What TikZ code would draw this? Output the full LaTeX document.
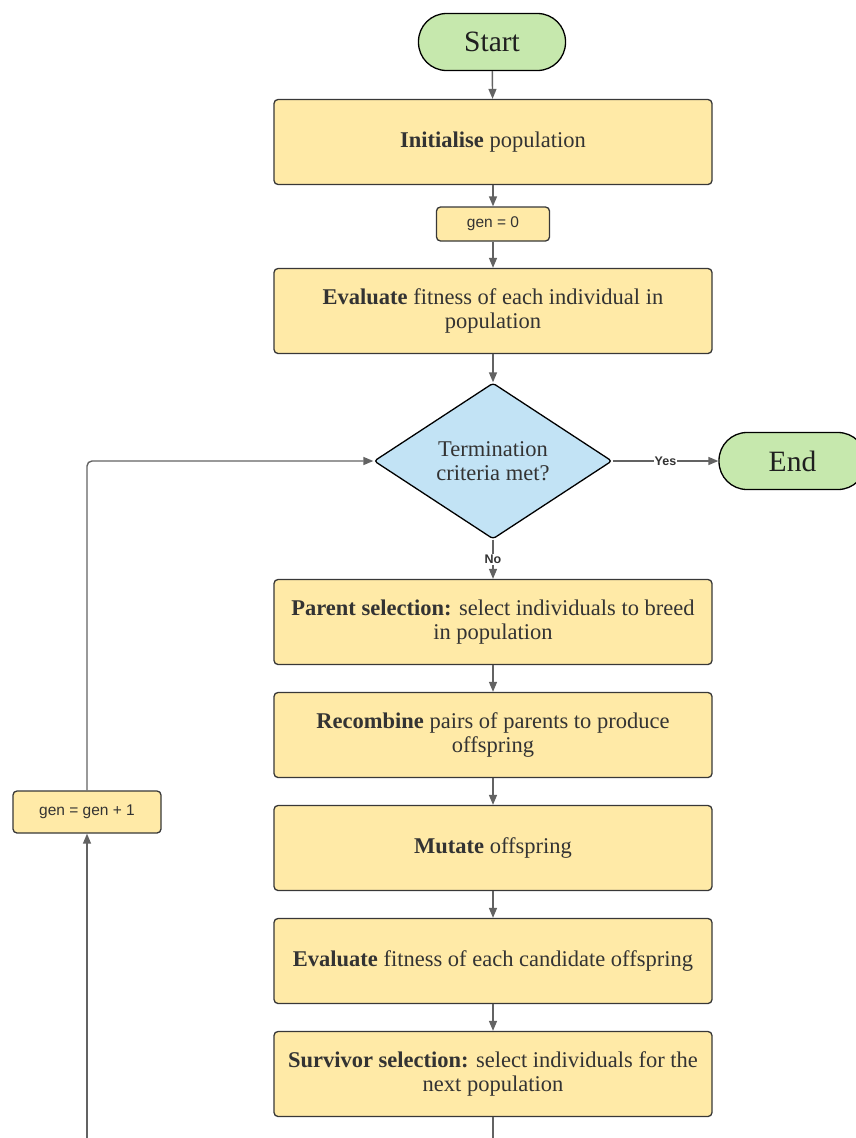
\documentclass[tikz,border=0pt]{standalone}
\usepackage{fontspec}
\setmainfont{Liberation Serif}
\newfontfamily\labelfont{Liberation Sans}
\usetikzlibrary{shapes.geometric,arrows.meta}
\definecolor{boxyellow}{HTML}{FFEAA7}
\definecolor{termgreen}{HTML}{C6E8AD}
\definecolor{decblue}{HTML}{C2E3F5}
\definecolor{edgegray}{HTML}{636363}
\definecolor{textgray}{HTML}{333333}
\begin{document}
\begin{tikzpicture}[x=1pt,y=-1pt,
    process/.style={draw=black!78,line width=1.3pt,fill=boxyellow,rounded corners=4pt,
      minimum width=438pt,minimum height=85pt,inner sep=2pt,align=center,
      text=textgray,font=\fontsize{22.5}{23.5}\selectfont},
    counter/.style={draw=black!78,line width=1.3pt,fill=boxyellow,rounded corners=4pt,
      minimum width=113pt,minimum height=34pt,inner sep=2pt,
      text=textgray,font=\labelfont\fontsize{15.5}{17}\selectfont},
    terminal/.style={draw=black,line width=1.3pt,fill=termgreen,rounded corners=28pt,
      minimum width=147pt,minimum height=57pt,text=black!88,
      font=\fontsize{29.5}{31}\selectfont},
    decision/.style={diamond,draw=black,line width=1.3pt,fill=decblue,rounded corners=3pt,
      minimum width=238pt,minimum height=156pt,inner sep=0pt,align=center,
      text=textgray,font=\fontsize{22.5}{23.5}\selectfont},
    answer/.style={fill=white,inner sep=1pt,text=textgray,
      font=\labelfont\bfseries\fontsize{12.5}{13}\selectfont},
    flow/.style={draw=edgegray,line width=1.4pt,-{Triangle[length=10pt,width=8pt]}}]
\useasboundingbox (0,0) rectangle (855,1138);

% main column
\node[terminal] (start) at (492,42) {Start};
\node[process] (init) at (493,142) {\textbf{Initialise} population};
\node[counter] (gen0) at (493,224) {gen = 0};
\node[process] (eval) at (493,311) {\textbf{Evaluate} fitness of each individual in\\population};
\node[decision] (term) at (493,461) {Termination\\criteria met?};
\node[terminal] (end) at (792.5,461) {End};
\node[process] (parents) at (493,622) {\textbf{Parent selection:} select individuals to breed\\in population};
\node[process] (recomb) at (493,735) {\textbf{Recombine} pairs of parents to produce\\offspring};
\node[process] (mutate) at (493,848) {\textbf{Mutate} offspring};
\node[process] (evaloff) at (493,961) {\textbf{Evaluate} fitness of each candidate offspring};
\node[process] (survivor) at (493,1074) {\textbf{Survivor selection:} select individuals for the\\next population};

% loop back
\node[counter,minimum width=148pt,minimum height=42pt] (incr) at (87,812) {gen = gen + 1};
\coordinate (loopin) at (87,1142);
\coordinate (next) at (493,1142);

\draw[flow] (start) -- (init);
\draw[flow] (init) -- (gen0);
\draw[flow] (gen0) -- (eval);
\draw[flow] (eval) -- (term);
\draw[flow] (term) -- node[answer]{Yes} (end);
\draw[flow] (term) -- node[answer]{No} (parents);
\draw[flow] (parents) -- (recomb);
\draw[flow] (recomb) -- (mutate);
\draw[flow] (mutate) -- (evaloff);
\draw[flow] (evaloff) -- (survivor);
\draw[draw=edgegray,line width=1.4pt] (survivor) -- (next);
\draw[flow] (loopin) -- (incr);
\draw[flow,rounded corners=5pt] (incr) |- (term);
\end{tikzpicture}
\end{document}
